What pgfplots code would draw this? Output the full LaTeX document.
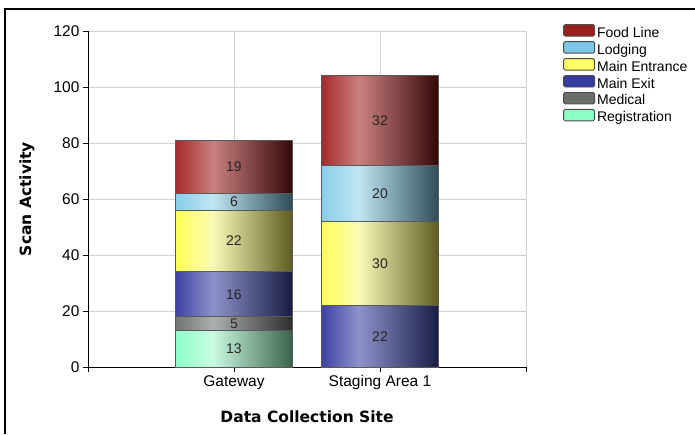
\documentclass[border=0pt]{standalone}
\usepackage{fontspec}
\setmainfont{Liberation Sans}
\newfontfamily\labfont{DejaVu Sans}
\usepackage{pgfplots}
\pgfplotsset{compat=1.18}

% bar shading colours: left edge, highlight, right edge; plus flat legend colour
\definecolor{flA}{RGB}{166,42,42}\definecolor{flB}{RGB}{202,128,128}\definecolor{flC}{RGB}{52,8,8}\definecolor{flL}{RGB}{155,32,32}
\definecolor{loA}{RGB}{136,206,234}\definecolor{loB}{RGB}{192,230,244}\definecolor{loC}{RGB}{46,76,88}\definecolor{loL}{RGB}{126,200,234}
\definecolor{meA}{RGB}{255,255,84}\definecolor{meB}{RGB}{250,250,184}\definecolor{meC}{RGB}{92,92,34}\definecolor{meL}{RGB}{255,255,100}
\definecolor{mxA}{RGB}{62,66,162}\definecolor{mxB}{RGB}{142,146,202}\definecolor{mxC}{RGB}{24,28,68}\definecolor{mxL}{RGB}{56,60,160}
\definecolor{mdA}{RGB}{112,116,112}\definecolor{mdB}{RGB}{172,176,172}\definecolor{mdC}{RGB}{44,46,44}\definecolor{mdL}{RGB}{106,110,105}
\definecolor{rgA}{RGB}{142,255,200}\definecolor{rgB}{RGB}{202,250,226}\definecolor{rgC}{RGB}{58,98,74}\definecolor{rgL}{RGB}{140,255,196}

\newcommand\mkshade[1]{%
  \pgfdeclarehorizontalshading{sh#1}{100bp}{color(0bp)=(#1A); color(25bp)=(#1A); color(41bp)=(#1B); color(75bp)=(#1C); color(100bp)=(#1C)}%
  \pgfdeclarehorizontalshading{lg#1}{100bp}{color(0bp)=(#1L); color(100bp)=(#1L)}}
\mkshade{fl}\mkshade{lo}\mkshade{me}\mkshade{mx}\mkshade{md}\mkshade{rg}

\pgfplotsset{
  seg/.style={draw=black!65, line width=0.9pt, shade, shading=sh#1,
    legend image code/.code={\draw[draw=black!70, line width=0.9pt, shade, shading=lg#1, rounded corners=1.5pt] (0pt,-2.5pt) rectangle (31pt,9pt);}},
  frame/.style={
    at={(88pt,-367pt)}, anchor=south west,
    scale only axis, width=438pt, height=336pt,
    ybar stacked, bar width=117pt,
    xmin=0, xmax=3, ymin=0, ymax=120,
    /pgf/number format/assume math mode=true,
    nodes near coords,
    every node near coord/.append style={anchor=center, font=\fontsize{14}{14}\selectfont, text=black!85},
  },
}

\begin{document}
\begin{tikzpicture}
\useasboundingbox (0,0) rectangle (695pt,-434pt);
\draw[line width=2.5pt] (5pt,-434pt) -- (5pt,-9pt) -- (695pt,-9pt);
% Gateway, with the axis itself
\begin{axis}[frame,
  xtick={0,1,2,3}, xticklabels={,Gateway,Staging Area 1,},
  ytick={0,20,...,120},
  axis x line*=bottom, axis y line*=left,
  axis line style={black, line width=0.9pt, -},
  tick align=outside, major tick length=5pt,
  tick style={black, line width=0.9pt},
  grid=major, major grid style={black!18, line width=0.9pt},
  tick label style={font=\fontsize{15.5}{15.5}\selectfont},
  xlabel={Data Collection Site}, ylabel={Scan Activity},
  every axis x label/.style={at={(rel axis cs:0.5,0)}, anchor=center, yshift=-50pt,
    font=\labfont\bfseries\fontsize{15.5}{18}\selectfont},
  every axis y label/.style={at={(rel axis cs:0,0.5)}, anchor=center, xshift=-61pt, rotate=90,
    font=\labfont\bfseries\fontsize{15.5}{18}\selectfont},
  legend style={draw=none, fill=none, at={(rel axis cs:1,1)}, anchor=north west,
    xshift=34pt, yshift=9pt, font=\fontsize{14}{14}\selectfont, row sep=-1pt,
    nodes={text height=10pt, text depth=3pt, inner sep=2pt}},
  legend cell align=left,
  reverse legend,
]
\addplot[seg=rg] coordinates {(1,13)};
\addlegendentry{Registration}
\addplot[seg=md] coordinates {(1,5)};
\addlegendentry{Medical}
\addplot[seg=mx] coordinates {(1,16)};
\addlegendentry{Main Exit}
\addplot[seg=me] coordinates {(1,22)};
\addlegendentry{Main Entrance}
\addplot[seg=lo] coordinates {(1,6)};
\addlegendentry{Lodging}
\addplot[seg=fl] coordinates {(1,19)};
\addlegendentry{Food Line}
\end{axis}
% Staging Area 1 (no Registration or Medical scans)
\begin{axis}[frame, hide axis]
\addplot[seg=mx] coordinates {(2,22)};
\addplot[seg=me] coordinates {(2,30)};
\addplot[seg=lo] coordinates {(2,20)};
\addplot[seg=fl] coordinates {(2,32)};
\end{axis}
\end{tikzpicture}
\end{document}
